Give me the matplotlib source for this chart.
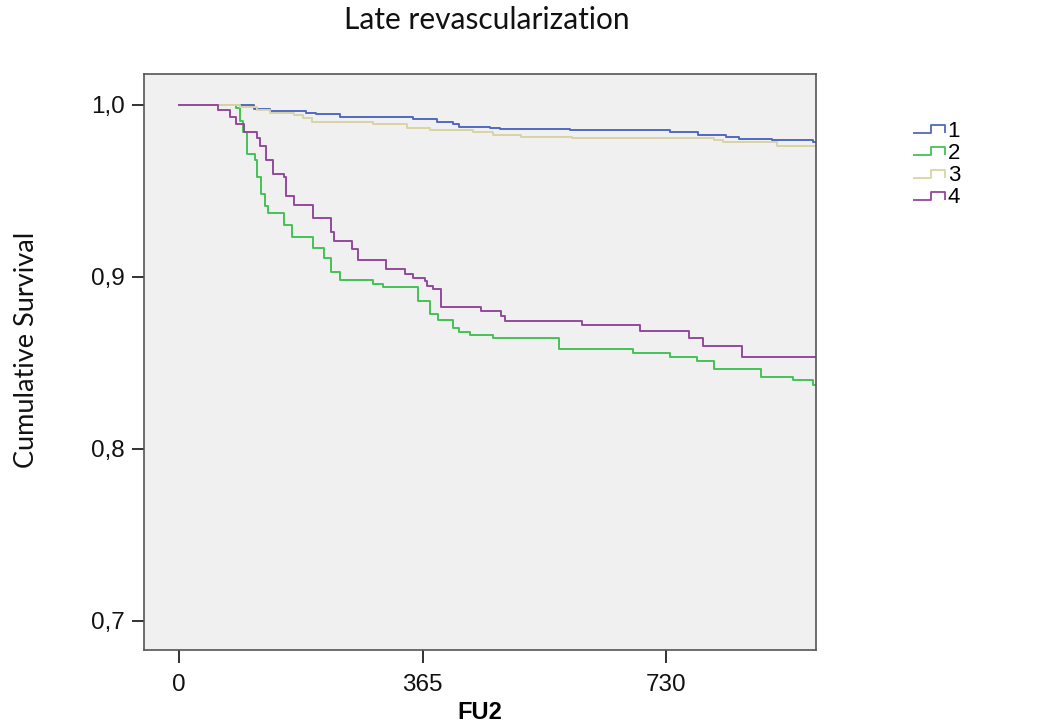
import matplotlib
matplotlib.use("Agg")
import matplotlib.pyplot as plt
from matplotlib.path import Path
from matplotlib.lines import Line2D

# Kaplan-Meier step data (days, cumulative survival)
t1 = [0, 112, 136, 191, 206, 241, 351, 386, 411, 420, 466, 481, 586, 736, 777, 820, 838, 888, 950]
s1 = [1.0, 0.9975, 0.9965, 0.9955, 0.9946, 0.993, 0.9917, 0.990, 0.9888, 0.9874, 0.9866, 0.986,
      0.9853, 0.9845, 0.9824, 0.9814, 0.9804, 0.9795, 0.9787]

t2 = [0, 86, 91, 96, 102, 114, 117, 123, 129, 134, 157, 170, 201, 218, 228, 241, 291, 306, 358,
      376, 388, 411, 420, 436, 470, 569, 680, 736, 776, 801, 872, 920, 950]
s2 = [1.0, 0.998, 0.9907, 0.984, 0.9713, 0.968, 0.958, 0.948, 0.941, 0.9374, 0.930, 0.9232,
      0.917, 0.9112, 0.903, 0.898, 0.8958, 0.8942, 0.886, 0.8783, 0.8748, 0.8705, 0.8682,
      0.8663, 0.8645, 0.858, 0.856, 0.8535, 0.8512, 0.8467, 0.842, 0.840, 0.837]

t3 = [0, 91, 117, 136, 172, 186, 199, 291, 341, 376, 441, 471, 512, 588, 802, 815, 895]
s3 = [1.0, 0.999, 0.997, 0.9955, 0.9942, 0.9922, 0.990, 0.9888, 0.9868, 0.9855, 0.984, 0.9824,
      0.9816, 0.9806, 0.9798, 0.9783, 0.976]

t4 = [0, 59, 76, 85, 98, 117, 121, 131, 141, 158, 161, 172, 201, 228, 232, 259, 268, 311, 338,
      351, 369, 371, 381, 393, 453, 483, 489, 603, 691, 764, 785, 843]
s4 = [1.0, 0.997, 0.993, 0.989, 0.984, 0.981, 0.976, 0.968, 0.960, 0.958, 0.947, 0.942, 0.934,
      0.926, 0.921, 0.916, 0.910, 0.9045, 0.9016, 0.8996, 0.8977, 0.8948, 0.8928, 0.8828, 0.880,
      0.8773, 0.8744, 0.872, 0.8686, 0.8647, 0.860, 0.8535]

groups = ['1', '2', '3', '4']
colors = ['#5069C0', '#45C255', '#D9D4A6', '#93499B']
fu_end = 960

x_ticks = [0, 365, 730]
y_ticks = [0.7, 0.8, 0.9, 1.0]
y_labels = ['0,7', '0,8', '0,9', '1,0']

fig = plt.figure(figsize=(10.57, 7.28), dpi=100)
ax = fig.add_axes([144 / 1057, 1 - 650 / 728, 672 / 1057, 576 / 728])
ax.set_facecolor('#F0F0F0')

for t, s, c in zip([t1, t2, t3, t4], [s1, s2, s3, s4], colors):
    ax.step(t + [fu_end], s + [s[-1]], where='post', color=c, lw=1.4)

ax.set_xlim(-52, 954)
ax.set_ylim(0.6831, 1.018)
ax.set_xticks(x_ticks)
ax.set_xticklabels([str(v) for v in x_ticks])
ax.set_yticks(y_ticks)
ax.set_yticklabels(y_labels)
ax.tick_params(direction='out', length=9, width=1.3, color='#222222',
               labelsize=17.5, labelcolor='#111111', pad=5)
ax.tick_params(axis='x', pad=8)
for lab in ax.get_xticklabels() + ax.get_yticklabels():
    lab.set_family('Liberation Sans')
for sp in ax.spines.values():
    sp.set_color('#555555')
    sp.set_linewidth(1.2)

ax.set_xlabel('FU2', fontsize=17, fontweight='bold', family='Liberation Sans', labelpad=4)

fig.text(487 / 1057, 1 - 20 / 728, 'Late revascularization', ha='center', va='center',
         fontsize=21.5, family='Lato', color='#111111')
fig.text(26 / 1057, 1 - 350 / 728, 'Cumulative Survival', ha='center', va='center',
         rotation=90, fontsize=19.5, family='Lato', color='#111111')

# legend glyph: small step symbol like SPSS
step_path = Path([(-1, -0.25), (0.1, -0.25), (0.1, 0.25), (1, 0.25), (1, -0.25)])
handles = [Line2D([], [], linestyle='none', marker=step_path, markersize=23,
                  markerfacecolor='none', markeredgecolor=c, markeredgewidth=1.3)
           for c in colors]
fig.legend(handles, groups, loc='upper left', bbox_to_anchor=(901 / 1057, 1 - 110 / 728),
           frameon=False, prop={'family': 'Liberation Sans', 'size': 16},
           handlelength=1.5, handletextpad=0.1, labelspacing=0.05, borderpad=0,
           numpoints=1)

fig.savefig('out.png', dpi=100)
